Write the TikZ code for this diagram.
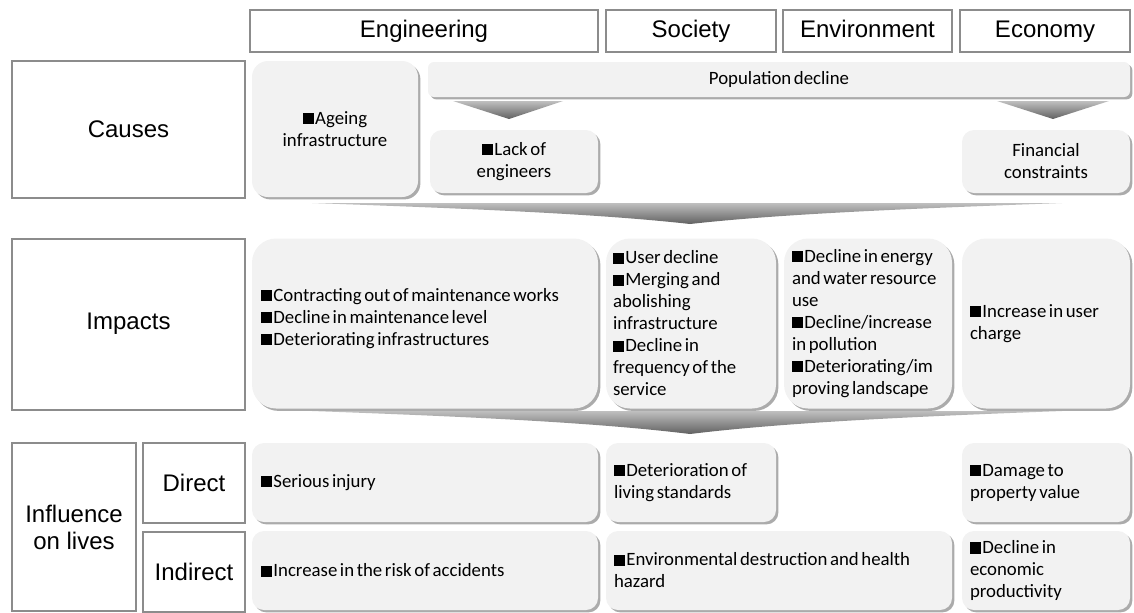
\documentclass[tikz,border=0pt]{standalone}
\usepackage{fontspec}
\setmainfont{Carlito}
\newfontfamily\arialfont{Liberation Sans}
\usepackage{tikz}
\usetikzlibrary{shadows}
\newcommand{\blk}{\rule{0.6em}{0.6em}\kern0.06em}
\newcommand{\tightsp}{\spaceskip 0.14em plus 0.05em\relax}

\begin{document}
\begin{tikzpicture}[x=0.5pt,y=-0.5pt,
    lbl/.style={draw=black!45,line width=1pt,fill=white,inner sep=0pt,align=center,
      font=\arialfont\fontsize{12}{13.5}\selectfont},
    head/.style={lbl,minimum height=21pt,text height=8.7pt,text depth=2.5pt},
    panel/.style={fill=black!5,rounded corners=6pt,inner sep=0pt,
      drop shadow={shadow xshift=1.2pt,shadow yshift=-1.2pt,fill=black!55,opacity=0.6},
      font=\fontsize{9.4}{11}\selectfont,execute at begin node=\tightsp},
    band/.style={top color=black!25,bottom color=black!62}]
    \useasboundingbox (0,0) rectangle (1134,612);
    \node[head,minimum width=174pt] (eng) at (424,31) {Engineering};
    \node[head,minimum width=85pt] (soc) at (691,31) {Society};
    \node[head,minimum width=84.5pt] (env) at (867.5,31) {Environment};
    \node[head,minimum width=85pt] (eco) at (1045,31) {Economy};
    \node[lbl,minimum width=116.5pt,minimum height=68.5pt] (causes) at (128.5,129.5) {Causes};
    \node[lbl,minimum width=116.5pt,minimum height=85.5pt] (impacts) at (128.5,324) {Impacts};
    \node[lbl,minimum width=62pt,minimum height=84pt] (influence) at (74,527) {Influence\\on lives};
    \node[lbl,minimum width=51pt,minimum height=40pt] (direct) at (194,483) {Direct};
    \node[lbl,minimum width=51pt,minimum height=40pt] (indirect) at (194,571.5) {Indirect};
    \node[panel,rounded corners=8pt,minimum width=83pt,minimum height=68pt,align=center] (ageing) at (335,129) {\blk Ageing\\infrastructure};
    \node[panel,rounded corners=3pt,minimum width=351pt,minimum height=17.5pt] (pop) at (779,79.5) {Population decline};
    \node[panel,minimum width=84pt,minimum height=31.5pt,align=center] (lack) at (514,161.5) {\blk Lack of\\engineers};
    \node[panel,minimum width=84pt,minimum height=31.5pt,align=center] (fin) at (1046,161.5) {Financial\\constraints};
    \shade[band] (453,101) -- (563,101) -- (509,119) -- cycle;
    \shade[band] (997,101) -- (1109,101) -- (1053,119) -- cycle;
    \shade[band] (312,203) -- (1062,203) .. controls (900,209) and (780,214) .. (690,224) .. controls (600,214) and (480,209) .. (312,203) -- cycle;
    \node[panel,rounded corners=12pt,minimum width=173pt,minimum height=85pt,text width=164pt,align=left] (impeng) at (425,323.5) {\blk Contracting out of maintenance works\\\blk Decline in maintenance level\\\blk Deteriorating infrastructures\\[-4pt]\mbox{}};
    \node[panel,rounded corners=12pt,minimum width=85pt,minimum height=85pt,text width=78pt,align=left] (impsoc) at (691,323.5) {\blk User decline\\\blk Merging and\\abolishing\\infrastructure\\\blk Decline in\\frequency of the\\service};
    \node[panel,rounded corners=12pt,minimum width=84pt,minimum height=85pt,text width=76pt,align=left] (impenv) at (868,323.5) {\blk Decline in energy\\and water resource\\use\\\blk Decline/increase\\in pollution\\\blk Deteriorating/im\\proving landscape};
    \node[panel,rounded corners=12pt,minimum width=84pt,minimum height=85pt,text width=76pt,align=left] (impeco) at (1046,323.5) {\blk Increase in user\\charge};
    \shade[band] (312,411) -- (1062,411) .. controls (900,417) and (780,423) .. (690,434) .. controls (600,423) and (480,417) .. (312,411) -- cycle;
    \node[panel,minimum width=173pt,minimum height=39.5pt,text width=164pt,align=left] (direng) at (425,482.5) {\blk Serious injury};
    \node[panel,minimum width=85pt,minimum height=39.5pt,text width=77pt,align=left] (dirsoc) at (691,482.5) {\blk Deterioration of\\living standards};
    \node[panel,minimum width=84pt,minimum height=39.5pt,text width=76pt,align=left] (direco) at (1046,482.5) {\blk Damage to\\property value};
    \node[panel,minimum width=173pt,minimum height=39.5pt,text width=164pt,align=left] (indeng) at (425,570.5) {\blk Increase in the risk of accidents};
    \node[panel,minimum width=173pt,minimum height=39.5pt,text width=165pt,align=left] (indsoc) at (779,570.5) {\blk Environmental destruction and health\\hazard};
    \node[panel,minimum width=84pt,minimum height=39.5pt,text width=76pt,align=left] (indeco) at (1046,570.5) {\blk Decline in\\economic\\productivity};
\end{tikzpicture}
\end{document}
